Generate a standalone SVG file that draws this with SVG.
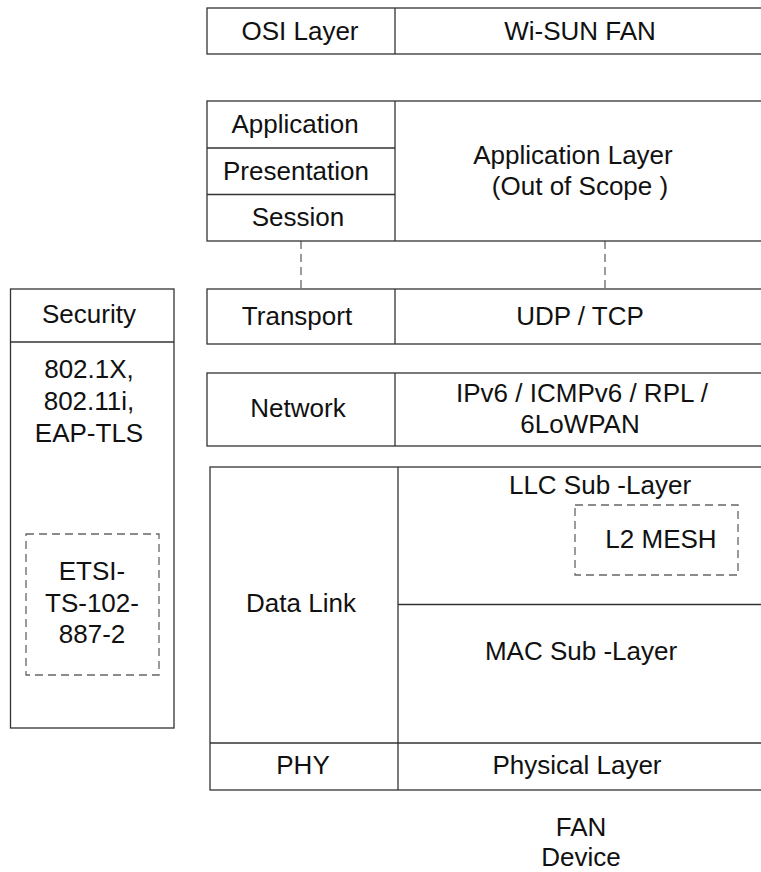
<svg xmlns="http://www.w3.org/2000/svg" width="761" height="872" viewBox="0 0 761 872">
<style>
.box{fill:#fff;stroke:#333;stroke-width:1.3}
.ln{stroke:#333;stroke-width:1.3;fill:none}
.dash{fill:none;stroke:#666;stroke-width:1.3;stroke-dasharray:8 5}
text{font-family:"Liberation Sans",Arial,sans-serif;font-size:26px;fill:#111;text-anchor:middle}
</style>
<rect width="761" height="872" fill="#fff"/>
<g id="connectors">
<line class="dash" x1="301" y1="241" x2="301" y2="289"/>
<line class="dash" x1="605" y1="241" x2="605" y2="289"/>
</g>
<g id="osi-header">
<rect class="box" x="207" y="8" width="570" height="46"/>
<line class="ln" x1="395" y1="8" x2="395" y2="54"/>
<text x="300" y="40">OSI Layer</text>
<text x="580" y="40">Wi-SUN FAN</text>
</g>
<g id="application">
<rect class="box" x="207" y="101" width="570" height="140"/>
<line class="ln" x1="395" y1="101" x2="395" y2="241"/>
<line class="ln" x1="207" y1="148" x2="395" y2="148"/>
<line class="ln" x1="207" y1="194.5" x2="395" y2="194.5"/>
<text x="295" y="133">Application</text>
<text x="296" y="180">Presentation</text>
<text x="298" y="226">Session</text>
<text x="573" y="164">Application Layer</text>
<text x="580" y="195">(Out of Scope )</text>
</g>
<g id="transport">
<rect class="box" x="207" y="289" width="570" height="55"/>
<line class="ln" x1="395" y1="289" x2="395" y2="344"/>
<text x="297" y="325">Transport</text>
<text x="580" y="325">UDP / TCP</text>
</g>
<g id="network">
<rect class="box" x="207" y="373" width="570" height="73"/>
<line class="ln" x1="395" y1="373" x2="395" y2="446"/>
<text x="298" y="417">Network</text>
<text x="582" y="402">IPv6 / ICMPv6 / RPL /</text>
<text x="580" y="433">6LoWPAN</text>
</g>
<g id="datalink">
<rect class="box" x="210" y="467" width="567" height="323"/>
<line class="ln" x1="398" y1="467" x2="398" y2="743"/>
<line class="ln" x1="398" y1="604.5" x2="777" y2="604.5"/>
<text x="301" y="612">Data Link</text>
<text x="600" y="494">LLC Sub -Layer</text>
<text x="581" y="660">MAC Sub -Layer</text>
</g>
<g id="l2mesh">
<rect class="dash" x="575" y="505" width="163" height="70"/>
<text x="661" y="548">L2 MESH</text>
</g>
<g id="phy">
<line class="ln" x1="210" y1="743" x2="777" y2="743"/>
<line class="ln" x1="398" y1="743" x2="398" y2="790"/>
<text x="303" y="774">PHY</text>
<text x="577" y="774">Physical Layer</text>
</g>
<g id="security">
<rect class="box" x="10.5" y="289" width="163.5" height="439"/>
<line class="ln" x1="10.5" y1="342" x2="174" y2="342"/>
<text x="89" y="323">Security</text>
<text x="89" y="378">802.1X,</text>
<text x="89" y="410">802.11i,</text>
<text x="89" y="442">EAP-TLS</text>
</g>
<g id="etsi">
<rect class="dash" x="26" y="534" width="133" height="141"/>
<text x="92" y="580">ETSI-</text>
<text x="92" y="612">TS-102-</text>
<text x="92" y="643">887-2</text>
</g>
<g id="fan-device">
<text x="581" y="836">FAN</text>
<text x="581" y="866">Device</text>
</g>
</svg>
